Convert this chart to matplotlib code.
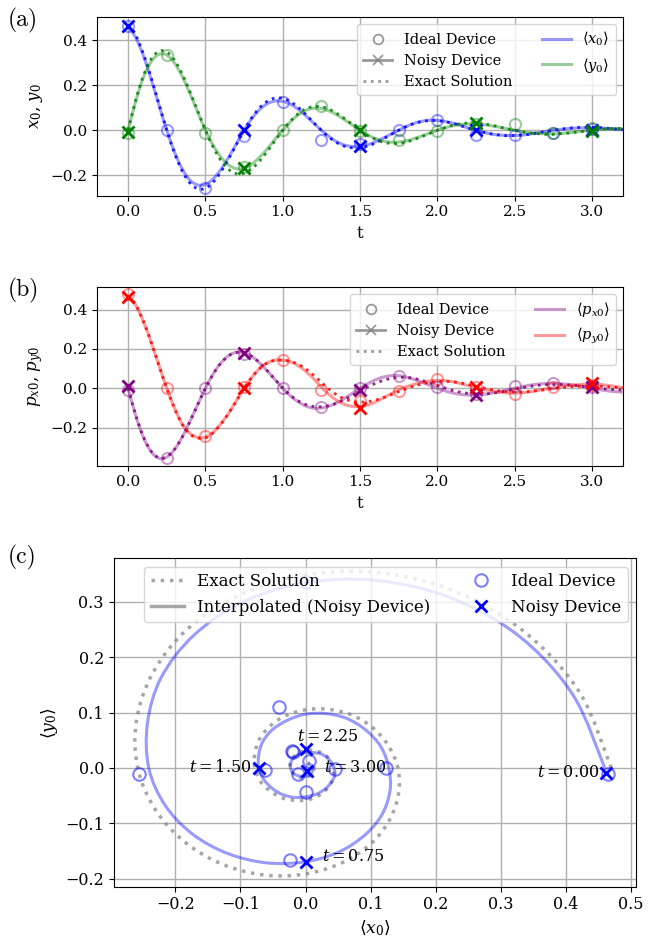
import matplotlib
matplotlib.use('Agg')
import matplotlib.pyplot as plt
from matplotlib.lines import Line2D
from matplotlib.path import Path
from matplotlib.patches import PathPatch
import numpy as np

plt.rcParams['font.family'] = 'serif'
plt.rcParams['font.serif'] = ['DejaVu Serif']
plt.rcParams['mathtext.fontset'] = 'dejavuserif'
plt.rcParams['font.size'] = 10.5

# Sample times: smooth curves every 0.05, ideal device every 0.25, noisy every 0.75
t_curve = np.linspace(0.0, 3.2, 65)
t_ideal = np.linspace(0.0, 3.0, 13)
t_noisy = [0.0, 0.75, 1.5, 2.25, 3.0]

# <x0>, <y0> : interpolated (noisy device) and exact solution
x0_interp = [0.460, 0.411, 0.329, 0.225, 0.111, 0.000, -0.097, -0.172, -0.222, -0.243,
             -0.241, -0.216, -0.174, -0.120, -0.060, 0.000, 0.052, 0.092, 0.118, 0.130,
             0.128, 0.116, 0.093, 0.064, 0.032, 0.000, -0.028, -0.051, -0.066, -0.072,
             -0.072, -0.064, -0.051, -0.035, -0.017, 0.000, 0.017, 0.031, 0.040, 0.045,
             0.044, 0.039, 0.032, 0.022, 0.010, 0.000, -0.009, -0.017, -0.021, -0.023,
             -0.023, -0.021, -0.017, -0.011, -0.006, 0.000, 0.004, 0.008, 0.010, 0.011,
             0.011, 0.010, 0.008, 0.005, 0.003]
y0_interp = [0.000, 0.132, 0.237, 0.306, 0.338, 0.334, 0.299, 0.239, 0.163, 0.081,
             0.000, -0.067, -0.119, -0.154, -0.171, -0.169, -0.151, -0.120, -0.083, -0.040,
             0.000, 0.038, 0.068, 0.089, 0.098, 0.097, 0.086, 0.069, 0.047, 0.023,
             0.000, -0.021, -0.037, -0.048, -0.053, -0.052, -0.047, -0.037, -0.025, -0.013,
             0.000, 0.011, 0.020, 0.026, 0.028, 0.028, 0.025, 0.020, 0.014, 0.007,
             0.000, -0.006, -0.011, -0.014, -0.015, -0.015, -0.014, -0.011, -0.007, -0.004,
             0.000, 0.003, 0.006, 0.007, 0.008]
x0_exact = [0.470, 0.421, 0.337, 0.231, 0.114, 0.000, -0.101, -0.182, -0.235, -0.260,
            -0.258, -0.231, -0.185, -0.127, -0.063, 0.000, 0.056, 0.100, 0.129, 0.143,
            0.142, 0.127, 0.102, 0.070, 0.034, 0.000, -0.031, -0.055, -0.071, -0.078,
            -0.078, -0.070, -0.056, -0.038, -0.019, 0.000, 0.017, 0.030, 0.039, 0.043,
            0.043, 0.038, 0.031, 0.021, 0.010, 0.000, -0.009, -0.016, -0.021, -0.024,
            -0.023, -0.021, -0.017, -0.011, -0.006, 0.000, 0.005, 0.009, 0.012, 0.013,
            0.013, 0.012, 0.009, 0.006, 0.003]
y0_exact = [0.000, 0.137, 0.245, 0.318, 0.352, 0.348, 0.312, 0.250, 0.171, 0.085,
            0.000, -0.075, -0.134, -0.174, -0.193, -0.191, -0.171, -0.137, -0.094, -0.046,
            0.000, 0.041, 0.074, 0.096, 0.106, 0.105, 0.094, 0.075, 0.052, 0.026,
            0.000, -0.023, -0.040, -0.053, -0.058, -0.058, -0.052, -0.041, -0.028, -0.014,
            0.000, 0.012, 0.023, 0.029, 0.032, 0.032, 0.028, 0.023, 0.015, 0.007,
            0.000, -0.007, -0.012, -0.015, -0.018, -0.018, -0.015, -0.012, -0.008, -0.004,
            0.000, 0.004, 0.007, 0.008, 0.009]
x0_ideal = [0.465, 0.000, -0.256, -0.024, 0.124, -0.041, -0.063, 0.000, 0.045, -0.021,
            -0.020, -0.012, 0.005]
y0_ideal = [-0.010, 0.336, -0.010, -0.165, 0.000, 0.110, -0.003, -0.043, -0.001, 0.030,
            0.028, -0.010, 0.012]
x0_noisy = [0.462, 0.000, -0.072, 0.000, 0.002]
y0_noisy = [-0.009, -0.169, 0.000, 0.034, -0.005]

# <px0>, <py0>
px0_interp = [0.000, -0.142, -0.252, -0.324, -0.356, -0.350, -0.311, -0.248, -0.168, -0.083,
              0.000, 0.073, 0.129, 0.166, 0.183, 0.180, 0.162, 0.129, 0.088, 0.044,
              0.000, -0.039, -0.069, -0.091, -0.101, -0.100, -0.091, -0.074, -0.051, -0.026,
              0.000, 0.023, 0.043, 0.057, 0.064, 0.064, 0.057, 0.045, 0.031, 0.015,
              0.000, -0.013, -0.024, -0.031, -0.034, -0.034, -0.031, -0.025, -0.018, -0.009,
              0.000, 0.008, 0.016, 0.021, 0.024, 0.025, 0.023, 0.019, 0.014, 0.007,
              0.000, -0.007, -0.013, -0.017, -0.020]
px0_exact = [0.000, -0.140, -0.250, -0.322, -0.354, -0.349, -0.310, -0.248, -0.168, -0.083,
             0.000, 0.072, 0.128, 0.165, 0.182, 0.180, 0.162, 0.130, 0.089, 0.045,
             0.002, -0.036, -0.064, -0.083, -0.093, -0.094, -0.088, -0.075, -0.057, -0.036,
             -0.014, 0.007, 0.025, 0.040, 0.050, 0.055, 0.055, 0.050, 0.040, 0.028,
             0.014, 0.001, -0.011, -0.020, -0.026, -0.029, -0.029, -0.026, -0.020, -0.013,
             -0.005, 0.003, 0.010, 0.015, 0.018, 0.019, 0.019, 0.017, 0.013, 0.009,
             0.004, 0.000, -0.004, -0.007, -0.009]
py0_interp = [0.470, 0.421, 0.337, 0.231, 0.114, 0.000, -0.101, -0.182, -0.230, -0.250,
              -0.249, -0.224, -0.180, -0.127, -0.063, 0.000, 0.056, 0.100, 0.129, 0.143,
              0.143, 0.135, 0.115, 0.085, 0.048, 0.005, -0.032, -0.062, -0.082, -0.092,
              -0.093, -0.086, -0.070, -0.050, -0.028, -0.008, 0.008, 0.020, 0.030, 0.037,
              0.040, 0.039, 0.033, 0.024, 0.014, 0.004, -0.006, -0.014, -0.020, -0.024,
              -0.025, -0.023, -0.018, -0.011, -0.004, 0.003, 0.009, 0.014, 0.018, 0.020,
              0.021, 0.019, 0.015, 0.009, 0.003]
py0_exact = [0.472, 0.422, 0.338, 0.232, 0.115, 0.000, -0.102, -0.184, -0.233, -0.253,
             -0.252, -0.226, -0.182, -0.128, -0.064, 0.000, 0.056, 0.100, 0.129, 0.142,
             0.142, 0.137, 0.122, 0.098, 0.066, 0.030, -0.005, -0.034, -0.054, -0.066,
             -0.070, -0.068, -0.060, -0.048, -0.033, -0.017, -0.002, 0.011, 0.022, 0.030,
             0.034, 0.035, 0.033, 0.027, 0.019, 0.010, 0.001, -0.007, -0.013, -0.017,
             -0.019, -0.019, -0.016, -0.012, -0.007, -0.002, 0.003, 0.007, 0.010, 0.011,
             0.011, 0.010, 0.008, 0.005, 0.002]
px0_ideal = [-0.010, -0.355, 0.000, 0.175, 0.000, -0.095, 0.000, 0.060, 0.005, -0.030,
             0.010, 0.025, 0.005]
py0_ideal = [0.480, 0.000, -0.245, 0.005, 0.145, -0.010, -0.065, -0.015, 0.045, 0.005,
             -0.030, 0.005, 0.015]
px0_noisy = [0.010, 0.180, -0.010, -0.035, 0.005]
py0_noisy = [0.465, 0.000, -0.100, 0.005, 0.025]

labels_c = ['$t = 0.00$', '$t = 0.75$', '$t = 1.50$', '$t = 2.25$', '$t = 3.00$']


def smooth_path(x, y):
    # cubic (Catmull-Rom) segments through the sampled points, so the curves have no corners
    p = np.column_stack([x, y])
    n = len(p)
    verts = [p[0]]
    codes = [Path.MOVETO]
    for i in range(n - 1):
        p0 = p[max(i - 1, 0)]
        p1 = p[i]
        p2 = p[i + 1]
        p3 = p[min(i + 2, n - 1)]
        verts += [p1 + (p2 - p0) / 6.0, p2 - (p3 - p1) / 6.0, p2]
        codes += [Path.CURVE4] * 3
    return Path(verts, codes)


def grey_handles():
    g = dict(color='gray', alpha=0.8)
    return [Line2D([], [], ls='none', marker='o', mfc='none', ms=7, mew=1.3,
                   label='Ideal Device', **g),
            Line2D([], [], lw=2, marker='x', ms=7, mew=1.3, label='Noisy Device', **g),
            Line2D([], [], lw=2, ls=':', label='Exact Solution', **g)]


def time_panel(ax, series, ylabel):
    handles = grey_handles()
    for interp, exact, ideal, noisy, color, label in series:
        ax.add_patch(PathPatch(smooth_path(t_curve, interp), fill=False, edgecolor=color,
                               alpha=0.4, lw=2.2))
        ax.add_patch(PathPatch(smooth_path(t_curve, exact), fill=False, edgecolor=color,
                               alpha=0.85, lw=2, ls=':'))
        ax.plot(t_ideal, ideal, 'o', mfc='none', color=color, alpha=0.4, ms=8, mew=1.5)
        ax.plot(t_noisy, noisy, 'x', color=color, ms=9, mew=2, zorder=4)
        handles.append(Line2D([], [], color=color, alpha=0.4, lw=2.2, label=label))
    ax.set_xlim(-0.2, 3.2)
    ax.tick_params(labelsize=11)
    ax.set_xlabel('t', fontsize=12)
    ax.set_ylabel(ylabel, fontsize=12)
    ax.grid(True, color='#b0b0b0', lw=1)
    ax.set_axisbelow(True)
    ax.legend(handles=handles, ncol=2, loc='upper right')


fig = plt.figure(figsize=(6.57, 9.46), dpi=100)

# (a)
ax_a = fig.add_axes([0.148, 0.7931, 0.8, 0.1892])
time_panel(ax_a, [(x0_interp, x0_exact, x0_ideal, x0_noisy, 'b', r'$\langle x_0\rangle$'),
                  (y0_interp, y0_exact, y0_ideal, y0_noisy, 'g', r'$\langle y_0\rangle$')],
           '$x_0$, $y_0$')
ax_a.set_ylim(-0.291, 0.505)

# (b)
ax_b = fig.add_axes([0.148, 0.5077, 0.8, 0.1893])
time_panel(ax_b, [(px0_interp, px0_exact, px0_ideal, px0_noisy, 'purple', r'$\langle p_{x0}\rangle$'),
                  (py0_interp, py0_exact, py0_ideal, py0_noisy, 'r', r'$\langle p_{y0}\rangle$')],
           '$p_{x0}$, $p_{y0}$')
ax_b.set_ylim(-0.394, 0.517)

# (c) phase portrait
ax_c = fig.add_axes([0.173, 0.0627, 0.795, 0.3471])
ax_c.add_patch(PathPatch(smooth_path(x0_exact, y0_exact), fill=False, edgecolor='gray',
                         alpha=0.7, lw=2.5, ls=':'))
ax_c.add_patch(PathPatch(smooth_path(x0_interp, y0_interp), fill=False, edgecolor='b',
                         alpha=0.4, lw=2.2))
ax_c.plot(x0_ideal, y0_ideal, 'o', mfc='none', color='b', alpha=0.5, ms=9, mew=1.5)
ax_c.plot(x0_noisy, y0_noisy, 'x', color='b', ms=9, mew=2, zorder=4)
offsets = [(-5, 0, 'right'), (12, 4, 'left'), (-5, 0, 'right'), (-6, 9, 'left'), (12, 2, 'left')]
for lab, xn, yn, (dx, dy, ha) in zip(labels_c, x0_noisy, y0_noisy, offsets):
    ax_c.annotate(lab, (xn, yn), xytext=(dx, dy), textcoords='offset points',
                  ha=ha, va='center', fontsize=11.5)
ax_c.set_xlim(-0.295, 0.508)
ax_c.set_ylim(-0.214, 0.378)
ax_c.tick_params(labelsize=11.5)
ax_c.set_xlabel(r'$\langle x_0\rangle$', fontsize=12.5)
ax_c.set_ylabel(r'$\langle y_0\rangle$', fontsize=12.5)
ax_c.grid(True, color='#b0b0b0', lw=1)
ax_c.set_axisbelow(True)
handles_c = [Line2D([], [], ls=':', color='gray', alpha=0.7, lw=2.5, label='Exact Solution'),
             Line2D([], [], color='gray', alpha=0.7, lw=2.5, label='Interpolated (Noisy Device)'),
             Line2D([], [], ls='none', marker='o', mfc='none', color='b', alpha=0.5, ms=9,
                    mew=1.5, label='Ideal Device'),
             Line2D([], [], ls='none', marker='x', color='b', ms=9, mew=2, label='Noisy Device')]
ax_c.legend(handles=handles_c, ncol=2, loc='upper right', fontsize=12)

for y, lab in [(0.992, '(a)'), (0.706, '(b)'), (0.424, '(c)')]:
    fig.text(0.012, y, lab, fontsize=17, va='top', family='cmr10')

fig.savefig('out.png', dpi=100)
